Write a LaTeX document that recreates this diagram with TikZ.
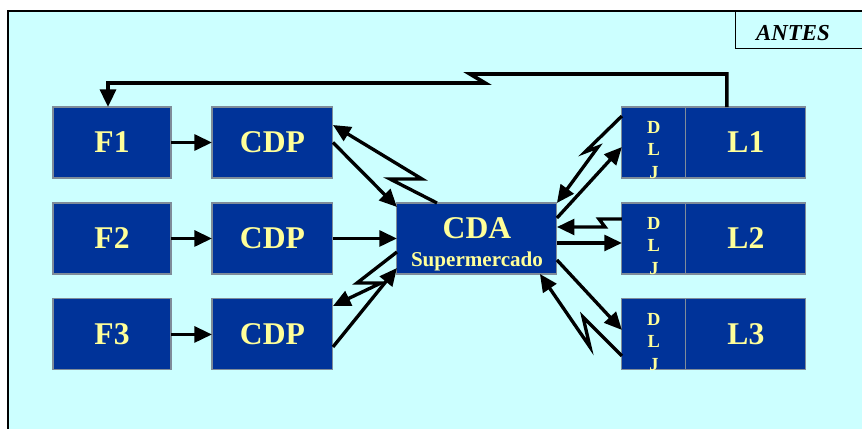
\documentclass[tikz,border=0pt]{standalone}
\usepackage{fontspec}
\setmainfont{Liberation Serif}
\usetikzlibrary{positioning,arrows.meta}

\definecolor{bgcyan}{HTML}{CCFFFF}
\definecolor{boxblue}{HTML}{003399}
\definecolor{boxyellow}{HTML}{FFFF99}
\definecolor{boxgray}{HTML}{7F8C99}

\tikzset{
  box/.style = {draw=boxgray, fill=boxblue, text=boxyellow, line width=0.6pt,
                inner sep=0pt, outer sep=0pt, minimum height=1.42cm,
                font=\fontsize{18}{20}\selectfont\bfseries},
  srcbox/.style = {box, minimum width=2.36cm},
  cdpbox/.style = {box, minimum width=2.42cm},
  cdabox/.style = {box, minimum width=3.2cm},
  dljbox/.style = {box, minimum width=1.28cm},
  lbox/.style = {box, minimum width=2.4cm},
  boxtxt/.style = {text=boxyellow, align=center, inner sep=0pt},
  dljtxt/.style = {boxtxt, font=\fontsize{10.5}{12.6}\selectfont\bfseries},
  arr/.style = {line width=1.9pt, -{Triangle[length=10pt,width=9pt]}},
}

\begin{document}
\begin{tikzpicture}[x=0.02cm, y=-0.02cm]
  \clip (0,0) rectangle (862,429);
  \fill[white] (0,0) rectangle (862,429);
  \fill[bgcyan] (8,11) rectangle (880,440);
  \draw[line width=1.7pt] (8,440) -- (8,11) -- (880,11);

  % header
  \draw[line width=0.5pt] (735,11) rectangle (880,48);
  \node[font=\fontsize{13}{15}\selectfont\bfseries\itshape] (antes) at (793,33) {ANTES};

  % sources and CDPs
  \node[srcbox] (f1) at (112,142.5) {F1};
  \node[srcbox, below=0.5cm of f1] (f2) {F2};
  \node[srcbox, below=0.5cm of f2] (f3) {F3};

  \node[cdpbox, right=0.82cm of f1] (c1) {CDP};
  \node[cdpbox, right=0.82cm of f2] (c2) {CDP};
  \node[cdpbox, right=0.82cm of f3] (c3) {CDP};

  \node[cdabox, right=1.28cm of c2] (cda) {};
  \node[boxtxt, font=\fontsize{18}{20}\selectfont\bfseries] (cdaname) at (477,228) {CDA};
  \node[boxtxt, font=\fontsize{12}{14}\selectfont\bfseries] (cdasub) at (477,261) {Supermercado};

  % stores
  \node[dljbox, right=1.3cm of cda] (d2) {};
  \node[dljbox, above=0.5cm of d2] (d1) {};
  \node[dljbox, below=0.5cm of d2] (d3) {};
  \foreach \i in {1,2,3} {
    \node[dljtxt] at ([yshift=-0.15cm]d\i) {D\\L\\J};
    \node[lbox, right=0cm of d\i] (l\i) {L\i};
  }

  % flows
  \foreach \i in {1,2,3}
    \draw[arr] (f\i.east) -- (c\i.west);
  \draw[arr] (c2.east) -- (cda.west);
  \draw[arr] (c1.east) -- ([yshift=-0.08cm]cda.north west);
  \draw[arr] ([xshift=-0.8cm]cda.north) -- (390,179) -- (422,179)
    -- ([yshift=0.35cm]c1.east);
  \draw[arr] ([yshift=-0.27cm]cda.west) -- (357,283) -- (381,283)
    -- ([yshift=0.57cm]c3.east);
  \draw[arr] ([yshift=-0.25cm]c3.east) -- ([yshift=-0.59cm]cda.west);

  \draw[arr] ([yshift=0.41cm]cda.east) -- ([yshift=-0.09cm]d1.west);
  \draw[arr] ([yshift=0.53cm]d1.west) -- (585,152) -- (598,147) -- (cda.north east);
  \draw[arr] ([yshift=0.39cm]d2.west) -- (599,219) -- (605,227)
    -- ([yshift=0.23cm]cda.east);
  \draw[arr] ([yshift=-0.09cm]cda.east) -- ([yshift=-0.09cm]d2.west);
  \draw[arr] ([yshift=-0.43cm]cda.east) -- ([yshift=0.09cm]d3.west);
  \draw[arr] ([yshift=-0.43cm]d3.west) -- (583,317) -- (590,347)
    -- ([xshift=-0.34cm]cda.south east);

  % feedback to F1
  \draw[arr, line width=2.1pt] ([xshift=-0.38cm]l1.north) |- (470,74) -- (485,83)
    -| ([xshift=-0.08cm]f1.north);
\end{tikzpicture}
\end{document}
